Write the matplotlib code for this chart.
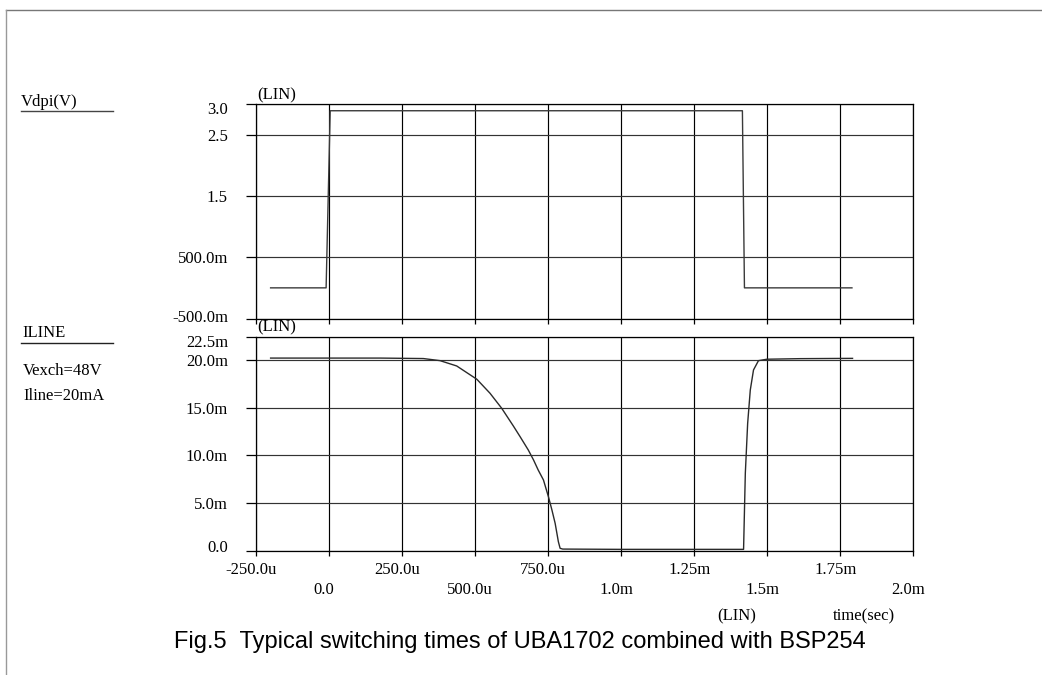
import matplotlib
matplotlib.use('Agg')
import matplotlib.pyplot as plt
import matplotlib.transforms as mtransforms
from matplotlib.lines import Line2D

# ---------------- data ----------------
vdpi_t_us = [-200, -10, 4, 1415, 1422, 1790]
vdpi_v = [0.0, 0.0, 2.89, 2.89, 0.0, 0.0]

iline_t_us = [-200, 175, 323, 380, 437, 506, 551, 591, 631, 654, 682, 700, 716, 734, 751,
              763, 774, 780, 785, 791, 800, 1000, 1419, 1425, 1433, 1442, 1453, 1470,
              1499, 1613, 1792]
iline_ma = [20.25, 20.25, 20.2, 19.98, 19.42, 18.02, 16.55, 14.97, 13.1, 11.98, 10.58, 9.53,
            8.47, 7.42, 5.66, 4.26, 2.86, 1.81, 0.93, 0.23, 0.15, 0.12, 0.12, 8.13, 13.39,
            16.89, 19.0, 19.98, 20.13, 20.19, 20.22]

xticks_us = [-250, 0, 250, 500, 750, 1000, 1250, 1500, 1750, 2000]
xtick_labels = ['-250.0u', '0.0', '250.0u', '500.0u', '750.0u', '1.0m', '1.25m', '1.5m', '1.75m', '2.0m']
v_ticks = [3.0, 2.5, 1.5, 0.5, -0.5]
v_tick_labels = ['3.0', '2.5', '1.5', '500.0m', '-500.0m']
i_ticks_ma = [22.5, 20.0, 15.0, 10.0, 5.0, 0.0]
i_tick_labels = ['22.5m', '20.0m', '15.0m', '10.0m', '5.0m', '0.0']

# ---------------- figure ----------------
W, H = 1042, 675
fig = plt.figure(figsize=(W / 100, H / 100), dpi=100)
fig.patch.set_facecolor('white')

SERIF = 'Liberation Serif'
FS = 12


def fx(x):
    return x / W


def fy(y):
    return 1 - y / H


def px_off(dx, dy):
    return mtransforms.ScaledTranslation(dx / 100, -dy / 100, fig.dpi_scale_trans)


L, R = 256, 913.3
ax1 = fig.add_axes([fx(L), fy(318.5), (R - L) / W, (318.5 - 104) / H])
ax2 = fig.add_axes([fx(L), fy(550.5), (R - L) / W, (550.5 - 336.7) / H])

t_vd = [t * 1e-6 for t in vdpi_t_us]
t_il = [t * 1e-6 for t in iline_t_us]
i_il = [i * 1e-3 for i in iline_ma]
xt = [t * 1e-6 for t in xticks_us]

ax1.plot(t_vd, vdpi_v, color='#3a3a3a', lw=1.0, zorder=3)
ax2.plot(t_il, i_il, color='#2a2a2a', lw=1.0, zorder=3)

for ax in (ax1, ax2):
    ax.set_xlim(xt[0], xt[-1])
    ax.set_axisbelow(True)
    for s in ax.spines.values():
        s.set_linewidth(0.9)
        s.set_color('black')
    ax.set_xticks(xt[0::2])
    ax.set_xticks(xt[1::2], minor=True)
    ax.tick_params(axis='x', which='both', direction='out', length=3.6, width=0.9,
                   color='black')
    ax.grid(True, which='both', axis='x', color='black', lw=0.85)
    ax.grid(True, which='major', axis='y', color='#333333', lw=0.85)
    ax.tick_params(axis='y', which='major', direction='out', length=7.2, width=0.9,
                   pad=13.0, labelsize=FS, color='black')
    ax.tick_params(axis='y', which='minor', left=False)

ax1.set_ylim(-0.5, 3.0)
ax1.set_yticks(v_ticks, v_tick_labels)
ax1.tick_params(axis='x', which='both', labelbottom=False)

ax2.set_ylim(0, 22.5e-3)
ax2.set_yticks([v * 1e-3 for v in i_ticks_ma], i_tick_labels)
ax2.set_xticks(xt[0::2], xtick_labels[0::2])
ax2.set_xticks(xt[1::2], xtick_labels[1::2], minor=True)
ax2.tick_params(axis='x', which='major', pad=4.6, labelsize=FS)
ax2.tick_params(axis='x', which='minor', pad=19.0, labelsize=FS)

for ax in (ax1, ax2):
    for lab in ax.get_yticklabels():
        lab.set_fontfamily(SERIF)
for lab in ax2.get_xticklabels(which='both'):
    lab.set_fontfamily(SERIF)
    lab.set_transform(lab.get_transform() + px_off(-5, 0))

# shift boundary y labels inward
yl1 = ax1.get_yticklabels()
yl1[0].set_transform(yl1[0].get_transform() + px_off(0, 4.5))
yl1[-1].set_transform(yl1[-1].get_transform() + px_off(0, -3))
yl2 = ax2.get_yticklabels()
yl2[0].set_transform(yl2[0].get_transform() + px_off(0, 4.6))
yl2[-1].set_transform(yl2[-1].get_transform() + px_off(0, -5))

# ---------------- texts ----------------
def ftext(x, y, s, **kw):
    kw.setdefault('family', SERIF)
    kw.setdefault('fontsize', FS)
    fig.text(fx(x), fy(y), s, va='baseline', ha='left', **kw)


ftext(21, 106.5, 'Vdpi(V)')
fig.add_artist(Line2D([fx(21), fx(113)], [fy(110.5), fy(110.5)], color='#444444', lw=1.0))
ftext(22, 336.7, 'ILINE')
fig.add_artist(Line2D([fx(21), fx(113)], [fy(342.5), fy(342.5)], color='#222222', lw=1.0))
ftext(23, 375, 'Vexch=48V')
ftext(23, 400, 'Iline=20mA')
ftext(257, 99, '(LIN)')
ftext(257, 331.5, '(LIN)')
ftext(717, 620, '(LIN)')
ftext(833, 620, 'time(sec)')

fig.text(fx(174), fy(648), 'Fig.5  Typical switching times of UBA1702 combined with BSP254',
         family='Liberation Sans', fontsize=17, va='baseline', ha='left', color='black')

# page frame
fig.add_artist(Line2D([fx(6), fx(1042)], [fy(10), fy(10)], color='#777777', lw=1.0))
fig.add_artist(Line2D([fx(6), fx(6)], [fy(10), fy(675)], color='#999999', lw=1.0))

fig.savefig('out.png', dpi=100)
